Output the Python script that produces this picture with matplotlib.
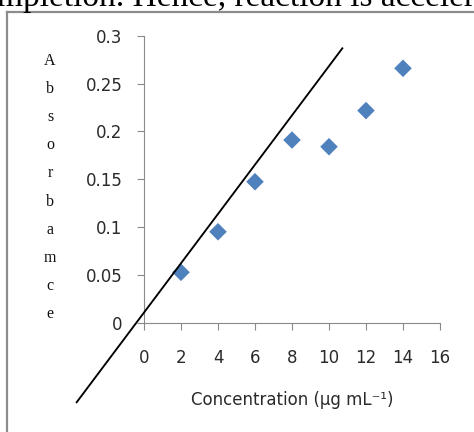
import matplotlib
matplotlib.use("Agg")
import matplotlib.pyplot as plt
from matplotlib.lines import Line2D

# data
conc = [2, 4, 6, 8, 10, 12, 14]
absorb = [0.0527, 0.0951, 0.1474, 0.191, 0.184, 0.2218, 0.266]
line_x = [-3.64, 10.72]
line_y = [-0.0832, 0.2869]
xticks = [0, 2, 4, 6, 8, 10, 12, 14, 16]
yticks = [0, 0.05, 0.1, 0.15, 0.2, 0.25, 0.3]
ytick_labels = ["0", "0.05", "0.1", "0.15", "0.2", "0.25", "0.3"]
ylabel_text = "Absorbamce"
xlabel_text = "Concentration (µg mL⁻¹)"
header_text = "mpletion. Hence, reaction is acceler"

W, H = 474, 432
fig = plt.figure(figsize=(W / 100, H / 100), dpi=100)
fig.patch.set_facecolor("white")

def fx(px):
    return px / W

def fy(py):
    return 1 - py / H

ax = fig.add_axes([fx(144), fy(322.7), fx(440) - fx(144), fy(35.8) - fy(322.7)])
ax.set_xlim(0, 16)
ax.set_ylim(0, 0.3)
ax.set_facecolor("none")

ax.scatter(conc, absorb, marker="D", s=80, color="#4F81BD", edgecolors="none", zorder=3)
ax.plot(line_x, line_y, color="black", lw=1.35, clip_on=False, zorder=4)

for s in ["top", "right"]:
    ax.spines[s].set_visible(False)
for s in ["left", "bottom"]:
    ax.spines[s].set_color("#8a8a8a")
    ax.spines[s].set_linewidth(0.8)

ax.set_xticks(xticks)
ax.set_xticklabels([str(t) for t in xticks])
ax.set_yticks(yticks)
ax.set_yticklabels(ytick_labels)
ax.tick_params(axis="both", direction="out", length=5, width=0.8, color="#8a8a8a",
               labelsize=12, labelcolor="#2a2a2a")
ax.tick_params(axis="y", pad=10.5)
ax.tick_params(axis="x", pad=14)
for lab in ax.get_xticklabels() + ax.get_yticklabels():
    lab.set_family("DejaVu Sans")

ax.set_xlabel(xlabel_text, fontsize=12, color="#2a2a2a", va="center")
ax.xaxis.set_label_coords(0.5, (322.7 - 400) / (322.7 - 35.8))

# vertical stacked y label letters
for i, ch in enumerate(ylabel_text):
    fig.text(fx(50), fy(65 + i * 28.1), ch, ha="center", va="baseline",
             family="Liberation Serif", fontsize=11.5, color="#111111")

# header text (cropped page text)
fig.text(fx(-3), fy(6), header_text, ha="left", va="baseline",
         family="Liberation Serif", fontsize=24, color="black")

# frame lines
fig.add_artist(Line2D([fx(6.5), fx(480)], [fy(12), fy(12)], color="#8c8c8c", lw=1.6))
fig.add_artist(Line2D([fx(6.5), fx(6.5)], [fy(12), fy(440)], color="#8c8c8c", lw=1.6))

fig.savefig("out.png", dpi=100)
